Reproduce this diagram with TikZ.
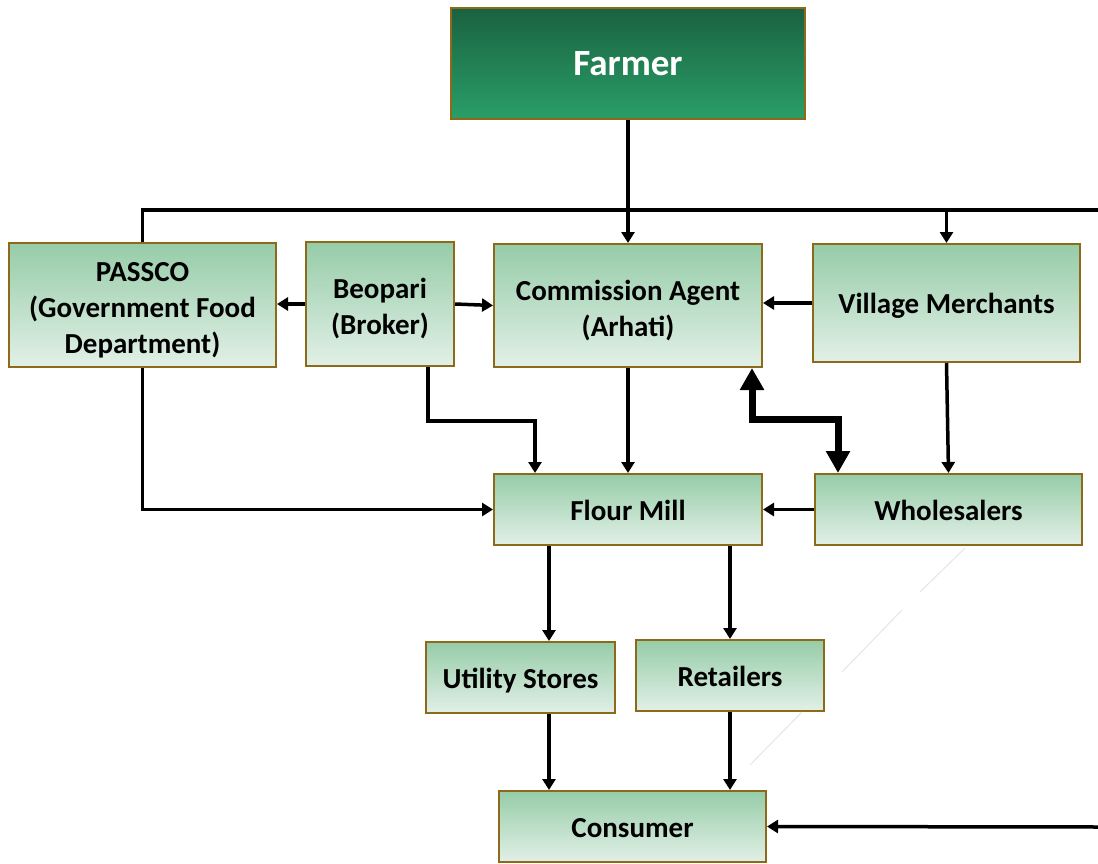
\documentclass[tikz,border=0pt]{standalone}
\usepackage{fontspec}
\setmainfont{Carlito}
\usetikzlibrary{arrows.meta}
\definecolor{boxedge}{HTML}{8C6A1A}
\definecolor{lighttop}{HTML}{96CCA8}
\definecolor{lightbot}{HTML}{E2F0E7}
\definecolor{darktop}{HTML}{1A6240}
\definecolor{darkbot}{HTML}{2A9E68}
% a zero-width strut that lowers the text block a little
\newcommand{\toppad}{\rule{0pt}{30pt}}
\tikzset{
  lbox/.style={draw=boxedge, line width=2pt, top color=lighttop, bottom color=lightbot,
    align=center, inner sep=0pt, font=\fontsize{29}{36}\selectfont\bfseries, text=black},
  dbox/.style={draw=boxedge, line width=2pt, top color=darktop, bottom color=darkbot,
    align=center, inner sep=0pt, font=\fontsize{37}{44}\selectfont\bfseries, text=white},
  arr/.style={line width=3.5pt, -{Triangle[width=13pt,length=11pt]}},
  plain/.style={line width=3.5pt},
  bigarr/.style={line width=7pt, {Triangle[width=23pt,length=22pt]}-{Triangle[width=23pt,length=22pt]}},
  faint/.style={draw=black!10, line width=1pt}
}
\begin{document}
\begin{tikzpicture}[x=1pt,y=-1pt]
\useasboundingbox (0,0) rectangle (1098,864);

% boxes
\node[dbox, minimum width=354pt, minimum height=111pt] (farmer) at (628,63.5) {Farmer};
\node[lbox, minimum width=267pt, minimum height=124pt] (passco) at (142.5,305) {\toppad PASSCO\\(Government Food\\Department)};
\node[lbox, minimum width=148pt, minimum height=124pt] (beopari) at (380,304) {\toppad Beopari\\(Broker)};
\node[lbox, minimum width=268pt, minimum height=123pt] (commission) at (628,305.5) {\toppad Commission Agent\\(Arhati)};
\node[lbox, minimum width=267pt, minimum height=118pt] (village) at (946.5,303) {\rule{0pt}{26pt}Village Merchants};
\node[lbox, minimum width=268pt, minimum height=71pt] (flour) at (628,509.5) {\rule{0pt}{23pt}Flour Mill};
\node[lbox, minimum width=267pt, minimum height=71pt] (wholesalers) at (948.5,509.5) {\rule{0pt}{23pt}Wholesalers};
\node[lbox, minimum width=189pt, minimum height=71pt] (utility) at (520.5,677.5) {\rule{0pt}{26pt}Utility Stores};
\node[lbox, minimum width=188pt, minimum height=71pt] (retailers) at (730,675.5) {\rule{0pt}{23pt}Retailers};
\node[lbox, minimum width=267pt, minimum height=71pt] (consumer) at (632.5,826.5) {\rule{0pt}{23pt}Consumer};

% free ends at the right margin
\coordinate (topright) at (1098,210);
\coordinate (botright) at (1098,827);

% faint stroke
\draw[faint] (965,548) -- (920,592);
\draw[faint] (902,610) -- (842,672);
\draw[faint] (802,712) -- (750,765);

% connectors
\draw[arr] (farmer.south) -- (commission.north);
\draw[plain] (passco.north) |- (topright);
\draw[arr] (village.north |- topright) -- (village.north);
\draw[arr] (beopari.west) -- (beopari.west -| passco.east);
\draw[arr] (beopari.east) -- (commission.west);
\draw[arr] (village.west) -- (village.west -| commission.east);
\draw[arr] ([xshift=48pt]beopari.south) -- ++(0,54) -| ([xshift=-93pt]flour.north);
\draw[arr] (commission.south) -- (flour.north);
\draw[arr] (passco.south) |- (flour.west);
\draw[bigarr] ([xshift=-110.5pt]wholesalers.north) -- ++(0,-54) -| ([xshift=124pt]commission.south);
\draw[arr] (village.south) -- (wholesalers.north);
\draw[arr] (wholesalers.west) -- (flour.east);
\draw[arr] ([xshift=-79pt]flour.south) -- ([xshift=28.5pt]utility.north);
\draw[arr] ([xshift=102pt]flour.south) -- (retailers.north);
\draw[arr] ([xshift=28.5pt]utility.south) -- ([xshift=-83.5pt]consumer.north);
\draw[arr] (retailers.south) -- ([xshift=97.5pt]consumer.north);
\draw[arr] (botright) -- (consumer.east);
\end{tikzpicture}
\end{document}
